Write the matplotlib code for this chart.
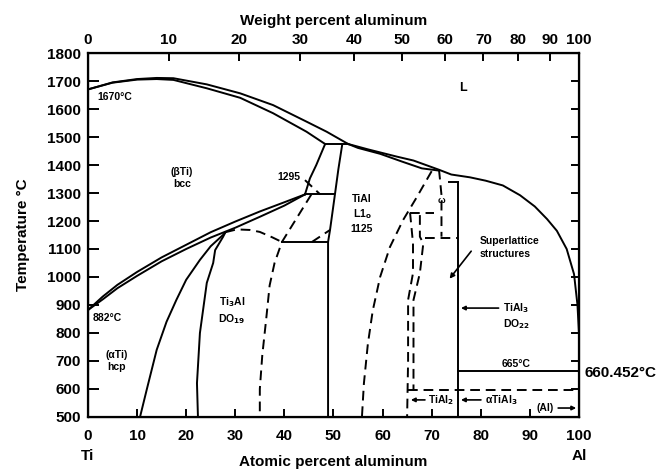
import matplotlib
matplotlib.use('Agg')
import matplotlib.pyplot as plt

plt.rcParams['font.family'] = ['Liberation Sans', 'DejaVu Sans']
plt.rcParams['font.weight'] = 'bold'

# ---- phase boundaries (atomic % Al, temperature in C) ----
liq_x = [0, 5, 10, 14, 17.4, 24.2, 31, 37.7, 44.5, 48.6, 53]
liq_T = [1670, 1695, 1707, 1711, 1710, 1688, 1656, 1614, 1555, 1519, 1475]
sol_x = [0, 5, 10, 14, 17.4, 24.2, 31, 37.7, 44.5, 48.3]
sol_T = [1670, 1694, 1705, 1707, 1704, 1674, 1640, 1585, 1519, 1475]

liq2_x = [53, 57, 62.9, 66.3, 71.5, 74, 77.8, 81, 84.5, 88, 91, 93.5, 95.5, 97.5, 99, 99.7, 100, 100]
liq2_T = [1475, 1456, 1430, 1416, 1383, 1366, 1356, 1344, 1327, 1292, 1252, 1207, 1165, 1100, 1010, 900, 800, 660.452]
sol2_x = [53, 55, 59.5, 64, 68, 71.5]
sol2_T = [1475, 1461, 1440, 1412, 1388, 1380]

beta_x = [0, 3, 6, 10, 15, 20, 25, 30, 35, 40, 44.2]
beta_T = [882, 930, 972, 1018, 1070, 1115, 1160, 1198, 1234, 1267, 1295]
alpha_x = [0, 3, 6, 10, 15, 20, 25, 28, 30, 35, 40, 44.2]
alpha_T = [882, 920, 960, 1004, 1056, 1100, 1141, 1162, 1176, 1215, 1255, 1295]

a2_left_x = [10.6, 12, 14, 16, 18, 20, 22.8, 25, 27.5, 28]
a2_left_T = [500, 600, 740, 840, 918, 990, 1061, 1110, 1150, 1160]
a2_right_x = [22.4, 22.2, 22.8, 24.2, 25.5, 25.9, 27.5, 28]
a2_right_T = [500, 621, 800, 979, 1050, 1096, 1143, 1160]

a2_dome_x = [28, 30.3, 33, 35, 37.5, 39.5]
a2_dome_T = [1160, 1170, 1168, 1161, 1142, 1125]
a2_limit_x = [45.5, 42.5, 39.5, 38, 37, 36.3, 35.5, 35, 35]
a2_limit_T = [1295, 1210, 1125, 1050, 970, 850, 720, 600, 500]

alpha_r_x = [48.3, 46.5, 45.2, 44.2]
alpha_r_T = [1475, 1400, 1352, 1295]
gamma_l_x = [51.8, 51, 50.3, 49.3, 48.9, 48.9]
gamma_l_T = [1475, 1385, 1295, 1168, 1125, 500]
gamma_r_x = [70, 67, 64.2, 61.5, 59.5, 58, 57, 56.2, 55.8]
gamma_r_T = [1378, 1286, 1204, 1107, 1000, 880, 760, 620, 500]

lead_1295_x = [44.2, 47.3]
lead_1295_T = [1346, 1295]
eut_side_x = [45.6, 49.3]
eut_side_T = [1125, 1168]

# TiAl2 and superlattice region
sl_x = [71.5, 72, 72, 72]
sl_T = [1383, 1293, 1240, 1144]
tial2_l_x = [65.6, 66.2, 66.2, 65.2, 65.2, 65.0]
tial2_l_T = [1230, 1120, 1014, 918, 700, 500]
tial2_r_x = [67.6, 67.6, 68.3, 67.6, 66.3, 66.3]
tial2_r_T = [1221, 1144, 1120, 1014, 918, 595]

tial3_x = 75.4
tial3_T = [1340, 500]

# isotherms: (x start, x end, T)
solid_iso = [(48.3, 53, 1475), (44.2, 50.2, 1295), (39.5, 48.9, 1125),
             (73.5, 75.4, 1340), (75.4, 100, 665)]
dashed_iso = [(65.6, 70.5, 1230), (68.6, 75.4, 1138), (65.2, 100, 595)]

# weight percent ticks on the top axis
wt_ticks = [0, 10, 20, 30, 40, 50, 60, 70, 80, 90, 100]
M_AL, M_TI = 26.98, 47.87


def wt_to_at(w):
    a = w / M_AL
    t = (100 - w) / M_TI
    return 100 * a / (a + t)


fig = plt.figure(figsize=(6.69, 4.70), dpi=100)
ax = fig.add_axes([0.1315, 0.1128, 0.7339, 0.7744])

lw = 1.4
dash = (0, (5, 3))
solid = dict(color='black', lw=lw)
dashed = dict(color='black', lw=lw, ls=dash)

for xs, ts in [(liq_x, liq_T), (sol_x, sol_T), (liq2_x, liq2_T), (sol2_x, sol2_T),
               (beta_x, beta_T), (alpha_x, alpha_T), (a2_left_x, a2_left_T),
               (a2_right_x, a2_right_T), (alpha_r_x, alpha_r_T), (gamma_l_x, gamma_l_T)]:
    ax.plot(xs, ts, **solid)

ax.plot([tial3_x, tial3_x], tial3_T, **solid)

for xs, ts in [(a2_dome_x, a2_dome_T), (a2_limit_x, a2_limit_T), (gamma_r_x, gamma_r_T),
               (lead_1295_x, lead_1295_T), (eut_side_x, eut_side_T), (sl_x, sl_T),
               (tial2_l_x, tial2_l_T), (tial2_r_x, tial2_r_T)]:
    ax.plot(xs, ts, **dashed)

for x0, x1, t in solid_iso:
    ax.plot([x0, x1], [t, t], **solid)
for x0, x1, t in dashed_iso:
    ax.plot([x0, x1], [t, t], **dashed)

ax.set_xlim(0, 100)
ax.set_ylim(500, 1800)
ax.set_xticks(range(0, 101, 10))
ax.set_yticks(range(500, 1801, 100))
ax.tick_params(direction='in', length=6, width=1.4, labelsize=11, pad=9)
ax.tick_params(axis='y', length=8, pad=5)
for s in ax.spines.values():
    s.set_linewidth(1.6)
for lab in ax.get_xticklabels() + ax.get_yticklabels():
    lab.set_fontweight('bold')

# right axis ticks, inward
axr = ax.twinx()
axr.set_ylim(500, 1800)
axr.set_yticks(range(500, 1801, 100))
axr.tick_params(direction='in', length=6, width=1.4, labelright=False)

# top axis in weight percent
axt = ax.twiny()
axt.set_xlim(0, 100)
axt.set_xticks([wt_to_at(w) for w in wt_ticks])
axt.set_xticklabels([str(w) for w in wt_ticks], fontweight='bold')
axt.tick_params(direction='in', length=6, width=1.4, labelsize=11, pad=4)
axt.set_xlabel('Weight percent aluminum', fontsize=11, fontweight='bold', labelpad=6)

ax.set_xlabel('Atomic percent aluminum', fontsize=11, fontweight='bold', labelpad=8)
ax.set_ylabel('Temperature \u00b0C', fontsize=11, fontweight='bold', labelpad=12)
xtrans = ax.get_xaxis_transform()
ax.text(0, -0.107, 'Ti', transform=xtrans, ha='center', va='center', fontsize=11, fontweight='bold')
ax.text(100, -0.107, 'Al', transform=xtrans, ha='center', va='center', fontsize=11, fontweight='bold')

# phase labels
fs = 7.5
ax.text(76.4, 1675, 'L', fontsize=9, ha='center', va='center')
ax.text(19.1, 1354, '(\u03b2Ti)\nbcc', fontsize=fs, ha='center', va='center', linespacing=1.2)
ax.text(2, 1643, '1670\u00b0C', fontsize=fs, ha='left', va='center')
ax.text(1, 853, '882\u00b0C', fontsize=fs, ha='left', va='center')
ax.text(5.9, 700, '(\u03b1Ti)\nhcp', fontsize=fs, ha='center', va='center', linespacing=1.2)
ax.text(29.3, 880, 'Ti$_\\mathbf{3}$Al\nDO$_\\mathbf{19}$', fontsize=fs, ha='center', va='center', linespacing=1.3)
ax.text(43.2, 1357, '1295', fontsize=fs, ha='right', va='center')
ax.text(55.8, 1225, 'TiAl\nL1$_\\mathbf{o}$\n1125', fontsize=fs, ha='center', va='center', linespacing=1.3)
ax.text(71.9, 1272, '\u03c9', fontsize=6.5, ha='center', va='center')
ax.text(79.8, 1104, 'Superlattice\nstructures', fontsize=fs, ha='left', va='center', linespacing=1.4)
ax.annotate('', xy=(73.3, 986), xytext=(78.4, 1100),
            arrowprops=dict(arrowstyle='-|>', lw=1.2, color='black', mutation_scale=7))
ax.text(84.6, 860, 'TiAl$_\\mathbf{3}$\nDO$_\\mathbf{22}$', fontsize=fs, ha='left', va='center', linespacing=1.3)
ax.annotate('', xy=(75.4, 889), xytext=(84.2, 889),
            arrowprops=dict(arrowstyle='-|>', lw=1.2, color='black', mutation_scale=6))
ax.text(87.2, 688, '665\u00b0C', fontsize=fs, ha='center', va='center')
ax.text(101.2, 656, '660.452\u00b0C', fontsize=11, ha='left', va='center', clip_on=False)
ax.text(69.3, 561, 'TiAl$_\\mathbf{2}$', fontsize=fs, ha='left', va='center')
ax.annotate('', xy=(65.2, 561), xytext=(69.2, 561),
            arrowprops=dict(arrowstyle='-|>', lw=1.2, color='black', mutation_scale=6))
ax.text(80.8, 561, '\u03b1TiAl$_\\mathbf{3}$', fontsize=fs, ha='left', va='center')
ax.annotate('', xy=(75.4, 561), xytext=(80.6, 561),
            arrowprops=dict(arrowstyle='-|>', lw=1.2, color='black', mutation_scale=6))
ax.text(91.4, 532, '(Al)', fontsize=fs, ha='left', va='center')
ax.annotate('', xy=(100, 532), xytext=(95.2, 532),
            arrowprops=dict(arrowstyle='-|>', lw=1.2, color='black', mutation_scale=6))

fig.savefig('out.png', dpi=100)
